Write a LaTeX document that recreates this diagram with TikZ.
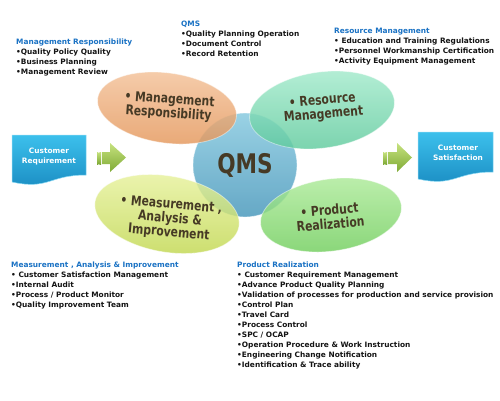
\documentclass[tikz,border=0pt]{standalone}
\usepackage{fontspec}
\setmainfont{DejaVu Sans}
\newfontfamily\ellfont[FakeStretch=0.8]{DejaVu Sans}
\usetikzlibrary{shapes.geometric}
\definecolor{hdblue}{HTML}{1A72C4}
\definecolor{ptext}{HTML}{463A25}
\definecolor{orT}{HTML}{F4C39B}\definecolor{orB}{HTML}{E5985C}
\definecolor{teT}{HTML}{A6ECCE}\definecolor{teB}{HTML}{5CC99B}
\definecolor{blT}{HTML}{8FCDE2}\definecolor{blB}{HTML}{559FC0}
\definecolor{yeT}{HTML}{E9F3A0}\definecolor{yeB}{HTML}{C3D953}
\definecolor{grT}{HTML}{B0EC9C}\definecolor{grB}{HTML}{6ECD5A}
\definecolor{bxT}{HTML}{3CC0EC}\definecolor{bxB}{HTML}{1A8CC2}
\definecolor{arT}{HTML}{C6E27E}\definecolor{arB}{HTML}{7FAA36}
\tikzset{
  hd/.style={anchor=base west, inner sep=0pt, text=hdblue, font=\fontsize{7.4}{10}\selectfont\bfseries},
  li/.style={anchor=base west, inner sep=0pt, text=black!92, font=\fontsize{7.4}{10}\selectfont\bfseries},
  petal/.style={ellipse, inner sep=0pt, fill opacity=0.82, draw=white, draw opacity=0.45, line width=0.8pt},
  petaltext/.style={inner sep=0pt, align=center, text=ptext, font=\ellfont\bfseries\fontsize{13.5}{14}\selectfont},
  boxtext/.style={inner sep=0pt, align=center, text=white, font=\fontsize{7.4}{10}\selectfont\bfseries},
  docbox/.style={top color=bxT, bottom color=bxB, draw=bxT!60!white, line width=0.5pt},
  blockarrow/.style={top color=arT, bottom color=arB},
}
\newcommand\qlist[5]{%
  \node[hd] (#3-0) at (#1,#2) {#4};
  \foreach \t [count=\i] in {#5} {\node[li] (#3-\i) at (#1,#2+10*\i) {\t};}
}
\begin{document}
\begin{tikzpicture}[x=1pt,y=-1pt]
\useasboundingbox[fill=white] (0,0) rectangle (500,400);

% centre circle
\node[circle, minimum size=104pt, inner sep=0pt, top color=blT, bottom color=blB, fill opacity=0.9, draw=white, draw opacity=0.5, line width=0.8pt] (qms) at (245,165) {};

% petals
\node[petal, minimum width=140pt, minimum height=70pt, rotate=-8, top color=orT, bottom color=orB] (mr) at (167,108) {};
\node[petal, minimum width=146pt, minimum height=76pt, rotate=8, top color=teT, bottom color=teB] (rm) at (322,110) {};
\node[petal, minimum width=146pt, minimum height=76pt, rotate=-10, top color=yeT, bottom color=yeB] (mai) at (167,214) {};
\node[petal, minimum width=142pt, minimum height=72pt, rotate=8, top color=grT, bottom color=grB] (pr) at (331,215) {};

\node[petaltext, rotate=-4] (mrt) at (169,107) {• Management\\Responsibility};
\node[petaltext, rotate=5] (rmt) at (323,108) {• Resource\\Management};
\node[petaltext, rotate=-5] (mait) at (170,219) {• Measurement ,\\Analysis \&\\Improvement};
\node[petaltext, rotate=5] (prt) at (330,217) {• Product\\Realization};
\node[inner sep=0pt, text=ptext, font=\ellfont\bfseries\fontsize{27}{28}\selectfont] (qmst) at (245,165) {QMS};

% document boxes
\path[docbox] (12,135) -- (86,135) -- (86,175) .. controls (49,175) and (49,190) .. (12,182) -- cycle;
\node[boxtext] (cr) at (49,157) {Customer\\Requirement};
\path[docbox] (418,132) -- (493,132) -- (493,172) .. controls (455,172) and (455,187) .. (418,179) -- cycle;
\node[boxtext] (cs) at (458,153) {Customer\\Satisfaction};

% block arrows
\path[blockarrow] (102,152) -- (110,152) -- (110,143) -- (126,157.5) -- (110,172) -- (110,164) -- (102,164) -- cycle;
\path[blockarrow] (97,152) rectangle (98.4,164);
\path[blockarrow] (99.4,152) rectangle (101,164);
\path[blockarrow] (388,152) -- (397,152) -- (397,143) -- (412,157.5) -- (397,172) -- (397,164) -- (388,164) -- cycle;
\path[blockarrow] (383,152) rectangle (384.4,164);
\path[blockarrow] (385.4,152) rectangle (387,164);

% text lists
\qlist{16}{44.5}{mrl}{Management Responsibility}{•Quality Policy Quality,•Business Planning,•Management Review}
\qlist{181}{26.5}{qmsl}{QMS}{•Quality Planning Operation,•Document Control,•Record Retention}
\qlist{334}{33.3}{rml}{Resource Management}{• Education and Training Regulations,•Personnel Workmanship Certification,•Activity Equipment Management}
\qlist{11}{267.3}{mail}{Measurement , Analysis \& Improvement}{• Customer Satisfaction Management,•Internal Audit,•Process / Product Monitor,•Quality Improvement Team}
\qlist{237}{267}{prl}{Product Realization}{• Customer Requirement Management,•Advance Product Quality Planning,•Validation of processes for production and service provision,•Control Plan,•Travel Card,•Process Control,•SPC / OCAP,•Operation Procedure \& Work Instruction,•Engineering Change Notification,•Identification \& Trace ability}
\end{tikzpicture}
\end{document}
